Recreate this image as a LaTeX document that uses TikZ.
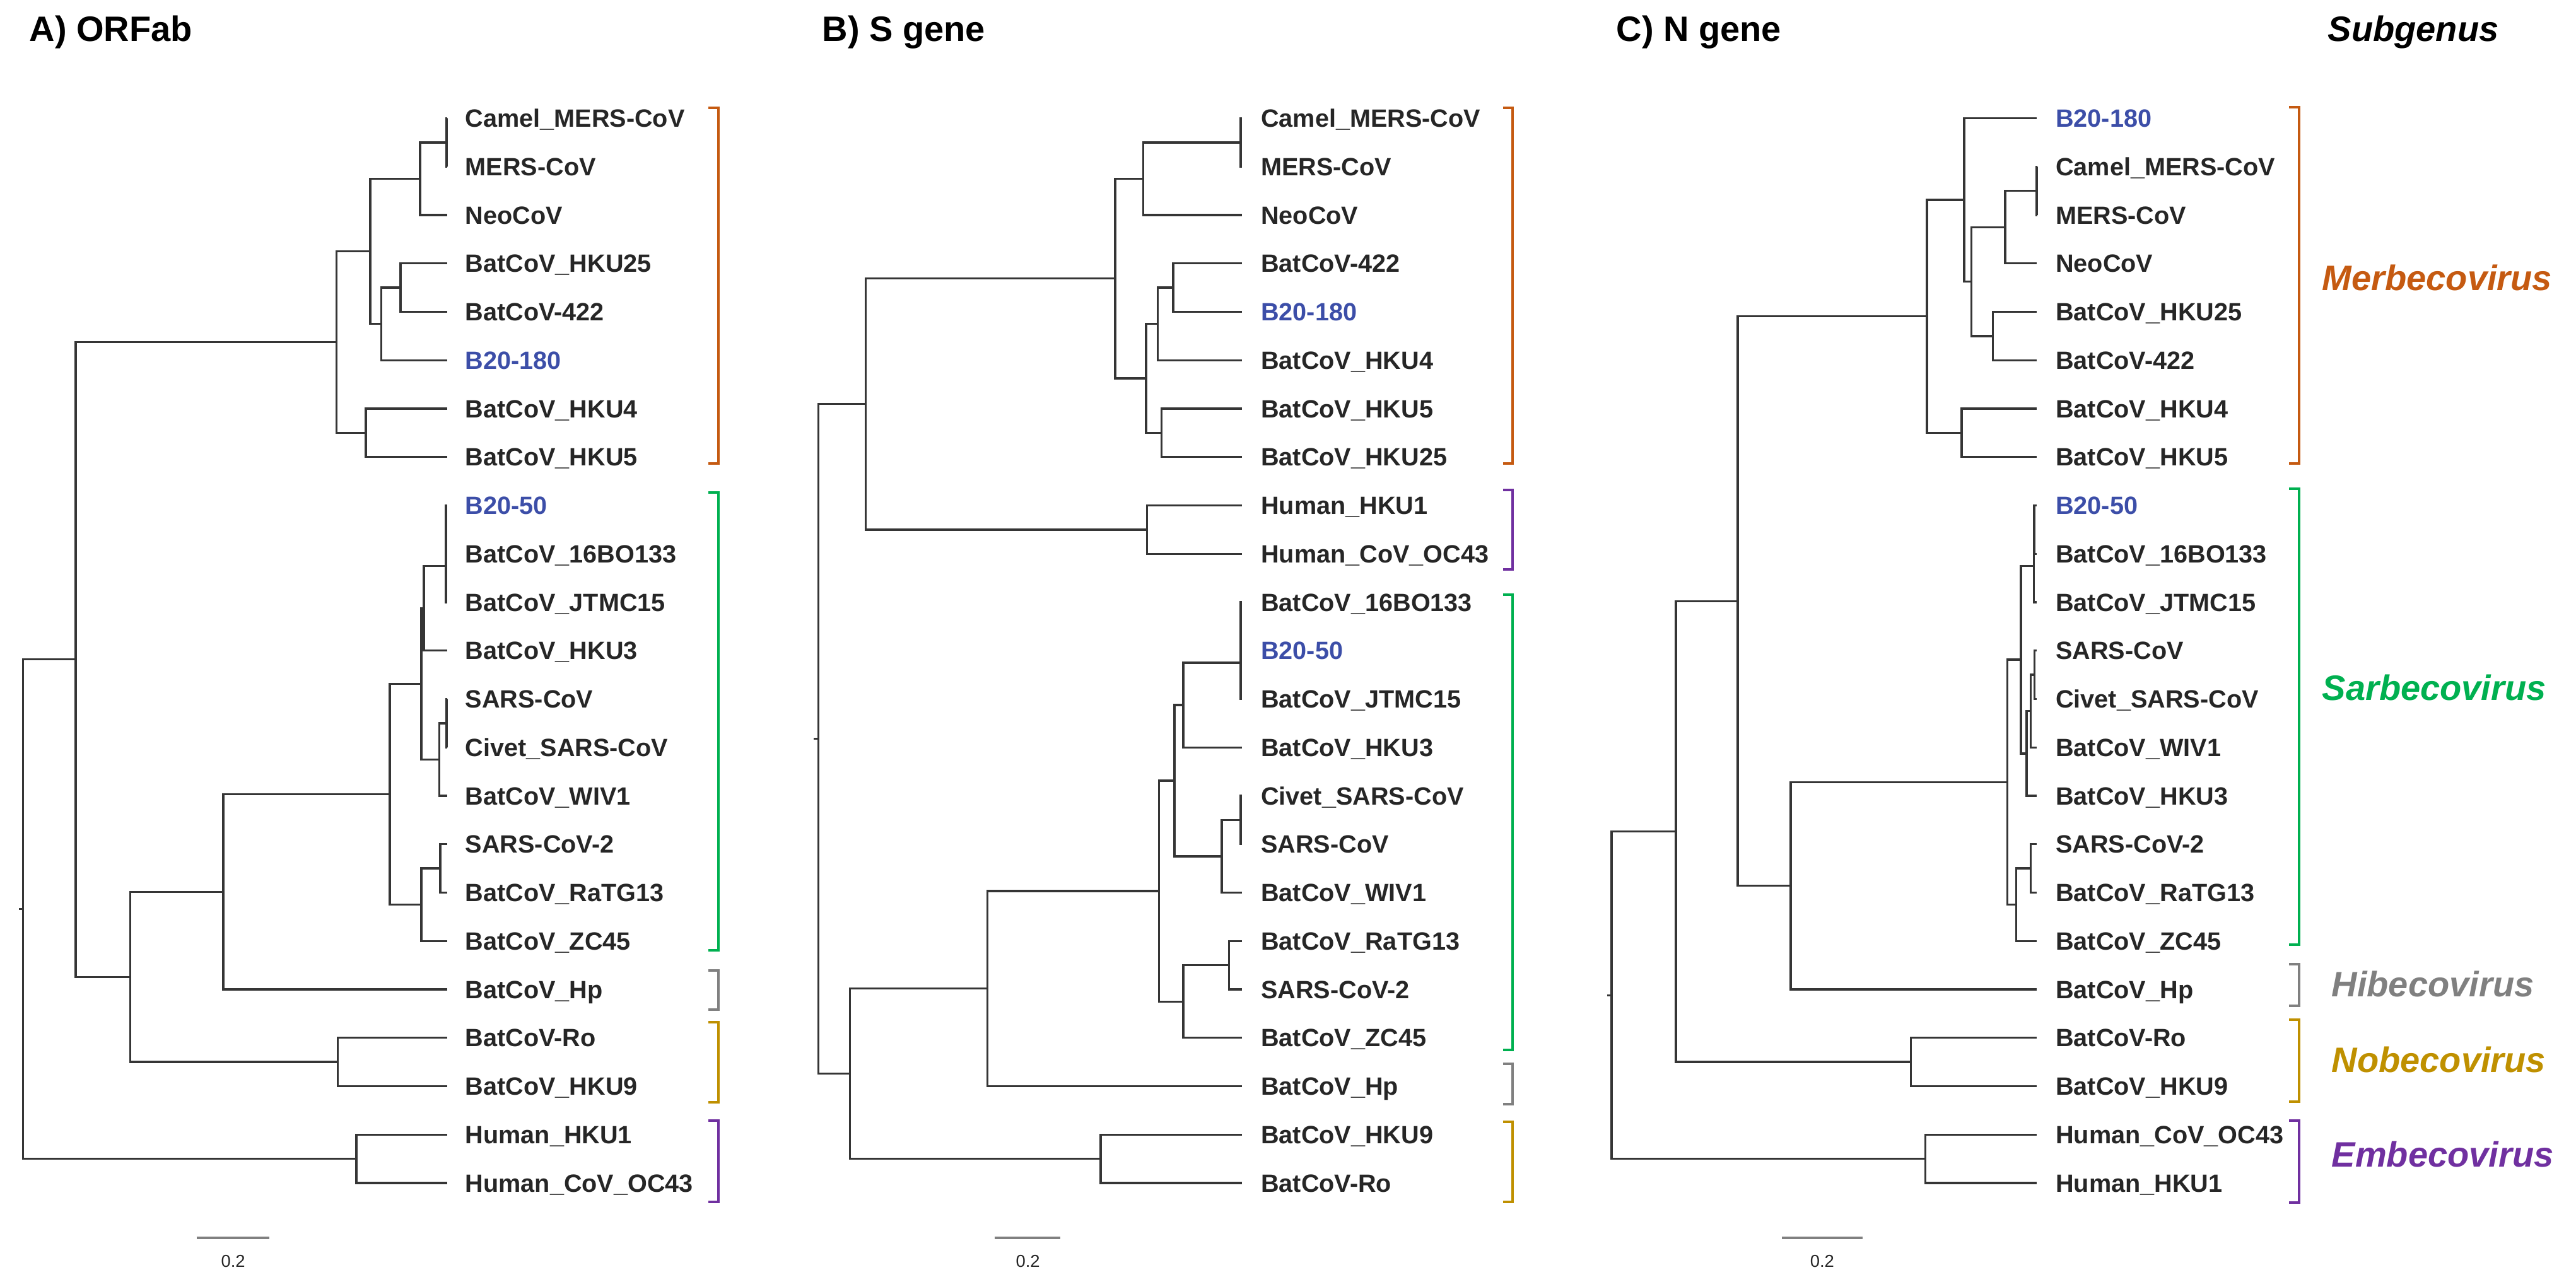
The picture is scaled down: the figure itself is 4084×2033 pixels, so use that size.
\documentclass[tikz,border=0pt]{standalone}
\usepackage{fontspec}
\setmainfont{Liberation Sans}
\definecolor{treec}{HTML}{353535}
\definecolor{labc}{HTML}{262626}
\definecolor{bluec}{RGB}{60,78,168}
\definecolor{merc}{HTML}{C55A11}
\definecolor{sarc}{HTML}{00B050}
\definecolor{hibc}{HTML}{808080}
\definecolor{nobc}{HTML}{BF9000}
\definecolor{embc}{HTML}{7030A0}
\newcommand\mkleaf[5]{\coordinate (#1) at (#2,{187.5+76.75*#4});
  \node[lab] (#1t) at (#3,{187.5+76.75*#4}) {#5};}
\newcommand\kids[3]{\draw[br] (#1) |- (#2) (#1) |- (#3);}
\newcommand\bl[1]{\textcolor{bluec}{#1}}
\begin{document}
\begin{tikzpicture}[x=0.01cm,y=-0.01cm,
  lab/.style={anchor=base west, inner sep=0pt, yshift=-0.142cm,
    font=\fontsize{11.27}{13}\selectfont\bfseries, text=labc},
  br/.style={draw=treec, line width=0.95pt},
  brk/.style={line width=1.15pt},
  ttl/.style={anchor=base west, inner sep=0pt, font=\fontsize{15.93}{18}\selectfont\bfseries},
  sg/.style={anchor=base west, inner sep=0pt, font=\fontsize{15.93}{18}\selectfont\bfseries\itshape},
  sbar/.style={draw=hibc, line width=0.9pt},
  sbt/.style={anchor=base, inner sep=0pt, font=\fontsize{7.8}{9}\selectfont, text=labc}]
\useasboundingbox (0,0) rectangle (4084,2033);

% ---------------- titles
\node[ttl] (tA) at (46,65) {A) ORFab};
\node[ttl] (tB) at (1303,65) {B) S gene};
\node[ttl] (tC) at (2562,65) {C) N gene};
\node[sg] (tS) at (3690,65) {Subgenus};

% ================= Panel A
\mkleaf{aL0}{709}{737}{0}{Camel\_MERS-CoV}
\mkleaf{aL1}{709}{737}{1}{MERS-CoV}
\mkleaf{aL2}{709}{737}{2}{NeoCoV}
\mkleaf{aL3}{709}{737}{3}{BatCoV\_HKU25}
\mkleaf{aL4}{709}{737}{4}{BatCoV-422}
\mkleaf{aL5}{709}{737}{5}{\bl{B20-180}}
\mkleaf{aL6}{709}{737}{6}{BatCoV\_HKU4}
\mkleaf{aL7}{709}{737}{7}{BatCoV\_HKU5}
\mkleaf{aL8}{709}{737}{8}{\bl{B20-50}}
\mkleaf{aL9}{709}{737}{9}{BatCoV\_16BO133}
\mkleaf{aL10}{709}{737}{10}{BatCoV\_JTMC15}
\mkleaf{aL11}{709}{737}{11}{BatCoV\_HKU3}
\mkleaf{aL12}{709}{737}{12}{SARS-CoV}
\mkleaf{aL13}{709}{737}{13}{Civet\_SARS-CoV}
\mkleaf{aL14}{709}{737}{14}{BatCoV\_WIV1}
\mkleaf{aL15}{709}{737}{15}{SARS-CoV-2}
\mkleaf{aL16}{709}{737}{16}{BatCoV\_RaTG13}
\mkleaf{aL17}{709}{737}{17}{BatCoV\_ZC45}
\mkleaf{aL18}{709}{737}{18}{BatCoV\_Hp}
\mkleaf{aL19}{709}{737}{19}{BatCoV-Ro}
\mkleaf{aL20}{709}{737}{20}{BatCoV\_HKU9}
\mkleaf{aL21}{709}{737}{21}{Human\_HKU1}
\mkleaf{aL22}{709}{737}{22}{Human\_CoV\_OC43}

\coordinate (aT) at (708,225.875);
\coordinate (aR) at (666,283.44);
\coordinate (aU) at (635,456.125);
\coordinate (aS) at (604.6,513.69);
\coordinate (aP) at (587,398.56);
\coordinate (aQ) at (580,686.375);
\coordinate (aM) at (533.4,542.47);
\coordinate (aY1aa) at (707,839.875);
\coordinate (aY1a) at (707,897.44);
\coordinate (aY1) at (672,964.6);
\coordinate (aY2a) at (708,1146.875);
\coordinate (aY2) at (696.4,1204.44);
\coordinate (aY) at (668,1084.52);
\coordinate (aZ2) at (698,1377.125);
\coordinate (aZ) at (668,1434.69);
\coordinate (aX) at (618,1259.6);
\coordinate (aV) at (354,1414.3);
\coordinate (aW) at (535.7,1684.125);
\coordinate (aB) at (206.6,1549.2);
\coordinate (aA) at (120,1045.8);
\coordinate (aH) at (565,1837.625);
\coordinate (aRoot) at (36.7,1441.7);
\coordinate (aStub) at (30,1441.7);

\draw[br] (aStub) -- (aRoot);
\kids{aRoot}{aA}{aH}
\kids{aA}{aM}{aB}
\kids{aM}{aP}{aQ}
\kids{aP}{aR}{aS}
\kids{aR}{aT}{aL2}
\kids{aT}{aL0}{aL1}
\kids{aS}{aU}{aL5}
\kids{aU}{aL3}{aL4}
\kids{aQ}{aL6}{aL7}
\kids{aB}{aV}{aW}
\kids{aV}{aX}{aL18}
\kids{aX}{aY}{aZ}
\kids{aY}{aY1}{aY2}
\kids{aY1}{aY1a}{aL11}
\kids{aY1a}{aY1aa}{aL10}
\kids{aY1aa}{aL8}{aL9}
\kids{aY2}{aY2a}{aL14}
\kids{aY2a}{aL12}{aL13}
\kids{aZ}{aZ2}{aL17}
\kids{aZ2}{aL15}{aL16}
\kids{aW}{aL19}{aL20}
\kids{aH}{aL21}{aL22}

\draw[brk,merc] (1123,170.7) -| (1139,735) -- (1123,735);
\draw[brk,sarc] (1123,781.4) -| (1139,1507) -- (1123,1507);
\draw[brk,hibc] (1123,1539) -| (1139,1601) -- (1123,1601);
\draw[brk,nobc] (1123,1620.6) -| (1139,1747.7) -- (1123,1747.7);
\draw[brk,embc] (1123,1777) -| (1139,1906) -- (1123,1906);

\coordinate (sA1) at (311.5,1963);
\coordinate (sA2) at (427,1963);
\draw[sbar] (sA1) -- (sA2);
\node[sbt] (sAt) at (369.6,2009) {0.2};

% ================= Panel B
\mkleaf{bL0}{1969.4}{1998.5}{0}{Camel\_MERS-CoV}
\mkleaf{bL1}{1969.4}{1998.5}{1}{MERS-CoV}
\mkleaf{bL2}{1969.4}{1998.5}{2}{NeoCoV}
\mkleaf{bL3}{1969.4}{1998.5}{3}{BatCoV-422}
\mkleaf{bL4}{1969.4}{1998.5}{4}{\bl{B20-180}}
\mkleaf{bL5}{1969.4}{1998.5}{5}{BatCoV\_HKU4}
\mkleaf{bL6}{1969.4}{1998.5}{6}{BatCoV\_HKU5}
\mkleaf{bL7}{1969.4}{1998.5}{7}{BatCoV\_HKU25}
\mkleaf{bL8}{1969.4}{1998.5}{8}{Human\_HKU1}
\mkleaf{bL9}{1969.4}{1998.5}{9}{Human\_CoV\_OC43}
\mkleaf{bL10}{1969.4}{1998.5}{10}{BatCoV\_16BO133}
\mkleaf{bL11}{1969.4}{1998.5}{11}{\bl{B20-50}}
\mkleaf{bL12}{1969.4}{1998.5}{12}{BatCoV\_JTMC15}
\mkleaf{bL13}{1969.4}{1998.5}{13}{BatCoV\_HKU3}
\mkleaf{bL14}{1969.4}{1998.5}{14}{Civet\_SARS-CoV}
\mkleaf{bL15}{1969.4}{1998.5}{15}{SARS-CoV}
\mkleaf{bL16}{1969.4}{1998.5}{16}{BatCoV\_WIV1}
\mkleaf{bL17}{1969.4}{1998.5}{17}{BatCoV\_RaTG13}
\mkleaf{bL18}{1969.4}{1998.5}{18}{SARS-CoV-2}
\mkleaf{bL19}{1969.4}{1998.5}{19}{BatCoV\_ZC45}
\mkleaf{bL20}{1969.4}{1998.5}{20}{BatCoV\_Hp}
\mkleaf{bL21}{1969.4}{1998.5}{21}{BatCoV\_HKU9}
\mkleaf{bL22}{1969.4}{1998.5}{22}{BatCoV-Ro}

\coordinate (bT) at (1967,225.875);
\coordinate (bR) at (1812.5,283.44);
\coordinate (bS1a) at (1860,456.125);
\coordinate (bS1) at (1835.5,513.69);
\coordinate (bS2) at (1841.6,686.375);
\coordinate (bS) at (1817,600.03);
\coordinate (bM) at (1768,441.74);
\coordinate (bH) at (1818.6,839.875);
\coordinate (bK1) at (1372.4,640.8);
\coordinate (bY1aa) at (1967,993.375);
\coordinate (bY1a) at (1967,1050.94);
\coordinate (bY1) at (1876,1118.1);
\coordinate (bY2a) at (1967,1300.375);
\coordinate (bY2) at (1937,1357.94);
\coordinate (bY) at (1862,1238.0);
\coordinate (bZ2) at (1948.7,1530.6);
\coordinate (bZ) at (1876,1588.2);
\coordinate (bX) at (1837.7,1413.1);
\coordinate (bV) at (1565.3,1567.8);
\coordinate (bN) at (1745,1837.6);
\coordinate (bK2) at (1347.2,1702.7);
\coordinate (bRoot) at (1297.4,1171.75);
\coordinate (bStub) at (1290,1171.75);

\draw[br] (bStub) -- (bRoot);
\kids{bRoot}{bK1}{bK2}
\kids{bK1}{bM}{bH}
\kids{bM}{bR}{bS}
\kids{bR}{bT}{bL2}
\kids{bT}{bL0}{bL1}
\kids{bS}{bS1}{bS2}
\kids{bS1}{bS1a}{bL5}
\kids{bS1a}{bL3}{bL4}
\kids{bS2}{bL6}{bL7}
\kids{bH}{bL8}{bL9}
\kids{bK2}{bV}{bN}
\kids{bV}{bX}{bL20}
\kids{bX}{bY}{bZ}
\kids{bY}{bY1}{bY2}
\kids{bY1}{bY1a}{bL13}
\kids{bY1a}{bY1aa}{bL12}
\kids{bY1aa}{bL10}{bL11}
\kids{bY2}{bY2a}{bL16}
\kids{bY2a}{bL14}{bL15}
\kids{bZ}{bZ2}{bL19}
\kids{bZ2}{bL17}{bL18}
\kids{bN}{bL21}{bL22}

\draw[brk,merc] (2382.6,170.7) -| (2398,735) -- (2382.6,735);
\draw[brk,embc] (2382.6,776.7) -| (2398,902.6) -- (2382.6,902.6);
\draw[brk,sarc] (2382.6,942.8) -| (2398,1665.4) -- (2382.6,1665.4);
\draw[brk,hibc] (2382.6,1687) -| (2398,1751) -- (2382.6,1751);
\draw[brk,nobc] (2382.6,1778.7) -| (2398,1905.8) -- (2382.6,1905.8);

\coordinate (sB1) at (1576.8,1963);
\coordinate (sB2) at (1680.9,1963);
\draw[sbar] (sB1) -- (sB2);
\node[sbt] (sBt) at (1629.6,2009) {0.2};

% ================= Panel C
\mkleaf{cL0}{3229.3}{3258.5}{0}{\bl{B20-180}}
\mkleaf{cL1}{3229.3}{3258.5}{1}{Camel\_MERS-CoV}
\mkleaf{cL2}{3229.3}{3258.5}{2}{MERS-CoV}
\mkleaf{cL3}{3229.3}{3258.5}{3}{NeoCoV}
\mkleaf{cL4}{3229.3}{3258.5}{4}{BatCoV\_HKU25}
\mkleaf{cL5}{3229.3}{3258.5}{5}{BatCoV-422}
\mkleaf{cL6}{3229.3}{3258.5}{6}{BatCoV\_HKU4}
\mkleaf{cL7}{3229.3}{3258.5}{7}{BatCoV\_HKU5}
\mkleaf{cL8}{3229.3}{3258.5}{8}{\bl{B20-50}}
\mkleaf{cL9}{3229.3}{3258.5}{9}{BatCoV\_16BO133}
\mkleaf{cL10}{3229.3}{3258.5}{10}{BatCoV\_JTMC15}
\mkleaf{cL11}{3229.3}{3258.5}{11}{SARS-CoV}
\mkleaf{cL12}{3229.3}{3258.5}{12}{Civet\_SARS-CoV}
\mkleaf{cL13}{3229.3}{3258.5}{13}{BatCoV\_WIV1}
\mkleaf{cL14}{3229.3}{3258.5}{14}{BatCoV\_HKU3}
\mkleaf{cL15}{3229.3}{3258.5}{15}{SARS-CoV-2}
\mkleaf{cL16}{3229.3}{3258.5}{16}{BatCoV\_RaTG13}
\mkleaf{cL17}{3229.3}{3258.5}{17}{BatCoV\_ZC45}
\mkleaf{cL18}{3229.3}{3258.5}{18}{BatCoV\_Hp}
\mkleaf{cL19}{3229.3}{3258.5}{19}{BatCoV-Ro}
\mkleaf{cL20}{3229.3}{3258.5}{20}{BatCoV\_HKU9}
\mkleaf{cL21}{3229.3}{3258.5}{21}{Human\_CoV\_OC43}
\mkleaf{cL22}{3229.3}{3258.5}{22}{Human\_HKU1}

\coordinate (cT) at (3229,302.625);
\coordinate (cR) at (3178.8,360.19);
\coordinate (cU) at (3159.7,532.875);
\coordinate (cS) at (3125.3,446.53);
\coordinate (cP) at (3113.8,317.0);
\coordinate (cQ) at (3110,686.375);
\coordinate (cM) at (3054.8,501.7);
\coordinate (cY1aa) at (3225,839.875);
\coordinate (cY1a) at (3224.7,897.44);
\coordinate (cSC) at (3225.5,1070.1);
\coordinate (cY2a) at (3219.4,1127.7);
\coordinate (cY2) at (3213,1194.85);
\coordinate (cY) at (3204,1046.1);
\coordinate (cZ2) at (3219.4,1377.125);
\coordinate (cZ) at (3196.4,1434.7);
\coordinate (cX) at (3182.6,1240.4);
\coordinate (cV) at (2839,1404.7);
\coordinate (cA) at (2754.8,953.2);
\coordinate (cW) at (3029.6,1684.125);
\coordinate (cB) at (2657,1318.7);
\coordinate (cH) at (3052.5,1837.625);
\coordinate (cRoot) at (2555.1,1578.2);
\coordinate (cStub) at (2548,1578.2);

\draw[br] (cStub) -- (cRoot);
\kids{cRoot}{cB}{cH}
\kids{cB}{cA}{cW}
\kids{cA}{cM}{cV}
\kids{cM}{cP}{cQ}
\kids{cP}{cL0}{cS}
\kids{cS}{cR}{cU}
\kids{cR}{cT}{cL3}
\kids{cT}{cL1}{cL2}
\kids{cU}{cL4}{cL5}
\kids{cQ}{cL6}{cL7}
\kids{cV}{cX}{cL18}
\kids{cX}{cY}{cZ}
\kids{cY}{cY1a}{cY2}
\kids{cY1a}{cY1aa}{cL10}
\kids{cY1aa}{cL8}{cL9}
\kids{cY2}{cY2a}{cL14}
\kids{cY2a}{cSC}{cL13}
\kids{cSC}{cL11}{cL12}
\kids{cZ}{cZ2}{cL17}
\kids{cZ2}{cL15}{cL16}
\kids{cW}{cL19}{cL20}
\kids{cH}{cL21}{cL22}

\draw[brk,merc] (3629,170) -| (3645,735) -- (3629,735);
\draw[brk,sarc] (3629,775) -| (3645,1498) -- (3629,1498);
\draw[brk,hibc] (3629,1529) -| (3645,1595) -- (3629,1595);
\draw[brk,nobc] (3629,1617) -| (3645,1747) -- (3629,1747);
\draw[brk,embc] (3629,1777) -| (3645,1907) -- (3629,1907);

\coordinate (sC1) at (2825.3,1963);
\coordinate (sC2) at (2953,1963);
\draw[sbar] (sC1) -- (sC2);
\node[sbt] (sCt) at (2888.8,2009) {0.2};

% ================= Subgenus labels
\node[sg, text=merc] (gM) at (3681,460) {Merbecovirus};
\node[sg, text=sarc] (gS) at (3681,1110) {Sarbecovirus};
\node[sg, text=hibc] (gH) at (3696,1580) {Hibecovirus};
\node[sg, text=nobc] (gN) at (3696,1700) {Nobecovirus};
\node[sg, text=embc] (gE) at (3696,1850) {Embecovirus};
\end{tikzpicture}
\end{document}
